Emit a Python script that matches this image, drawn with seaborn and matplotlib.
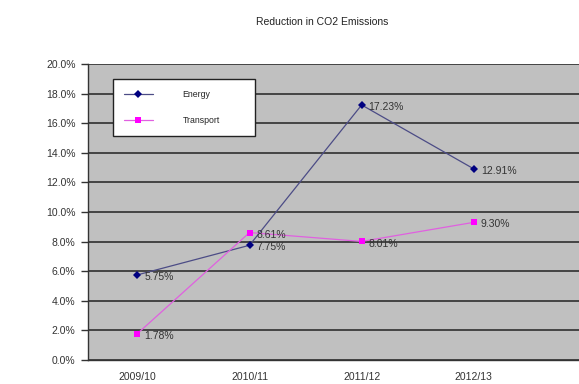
import matplotlib
matplotlib.use("Agg")
import matplotlib.pyplot as plt
import seaborn as sns
import pandas as pd

years = ["2009/10", "2010/11", "2011/12", "2012/13"]
energy = [5.75, 7.75, 17.23, 12.91]
transport = [1.78, 8.61, 8.01, 9.30]
series_names = ["Energy", "Transport"]
series_colors = {"Energy": "#000080", "Transport": "#FF00FF"}
line_colors = {"Energy": "#4c4c86", "Transport": "#e060e0"}
y_ticks = [0, 2, 4, 6, 8, 10, 12, 14, 16, 18, 20]

sns.set_theme(style="white")
plt.rcParams["font.family"] = ["Liberation Sans", "DejaVu Sans"]

df = pd.DataFrame({
    "pos": list(range(len(years))) * 2,
    "value": energy + transport,
    "series": [series_names[0]] * len(years) + [series_names[1]] * len(years),
})

fig = plt.figure(figsize=(5.79, 3.84), dpi=100)
fig.patch.set_facecolor("white")
ax = fig.add_axes([0.152, 0.0625, 0.86, 0.771])
ax.set_facecolor("#c0c0c0")

# horizontal gridlines
for t in y_ticks:
    ax.axhline(t, color="#3a3a3a", lw=1.3, zorder=1)

sns.lineplot(data=df, x="pos", y="value", hue="series", style="series",
             palette=series_colors, markers={"Energy": "D", "Transport": "s"},
             dashes=False, markersize=4, linewidth=0.9, markeredgewidth=0,
             ax=ax, zorder=3, legend=False)

# lines in a softer tint, markers in the full series colour
for line, name in zip(ax.get_lines()[-2:], series_names):
    line.set_color(line_colors[name])
    line.set_markerfacecolor(series_colors[name])
    line.set_markeredgecolor(series_colors[name])

for vals in (energy, transport):
    for i, v in enumerate(vals):
        ax.annotate(f"{v:.2f}%", (i, v), xytext=(5, -1.5), textcoords="offset points",
                    fontsize=7.5, color="#333333", va="center", ha="left", zorder=4)

ax.set_xlim(-0.44, 4.0)
ax.set_ylim(0, 20)
ax.set_yticks(y_ticks)
ax.set_yticklabels([f"{t:.1f}%" for t in y_ticks], fontsize=7.5, color="#333333")
ax.set_xticks(range(len(years)))
ax.set_xticklabels(years, fontsize=7.5, color="#333333")
ax.set_xticks([0.5, 1.5, 2.5], minor=True)
ax.tick_params(axis="x", which="major", length=0, pad=9)
ax.tick_params(axis="x", which="minor", length=4, width=1, color="#333333", direction="out")
ax.tick_params(axis="y", length=5, width=1, color="#333333", direction="out", pad=4, left=True)
ax.set_xlabel("")
ax.set_ylabel("")

for s in ["top", "right"]:
    ax.spines[s].set_visible(False)
for s in ["left", "bottom"]:
    ax.spines[s].set_color("#333333")
    ax.spines[s].set_linewidth(1)

handles = []
for name, mk in zip(series_names, ["D", "s"]):
    handles.append(plt.Line2D([], [], color=line_colors[name], marker=mk, markersize=4,
                              markerfacecolor=series_colors[name],
                              markeredgecolor=series_colors[name],
                              lw=0.9, markeredgewidth=0))
leg = ax.legend(handles, series_names, loc="upper left",
                bbox_to_anchor=(0.05, 0.949, 0.286, 0.0), mode="expand",
                fontsize=6.3, frameon=True, fancybox=False, framealpha=1,
                handlelength=3.3, handletextpad=3.4, borderpad=1.25,
                labelspacing=2.0, borderaxespad=0)
leg.get_frame().set_edgecolor("#222222")
leg.get_frame().set_linewidth(1)
leg.get_frame().set_facecolor("white")

fig.text(0.556, 0.942, "Reduction in CO2 Emissions", ha="center", va="center",
         fontsize=7.5, color="#222222")

fig.savefig("out.png", dpi=100)
